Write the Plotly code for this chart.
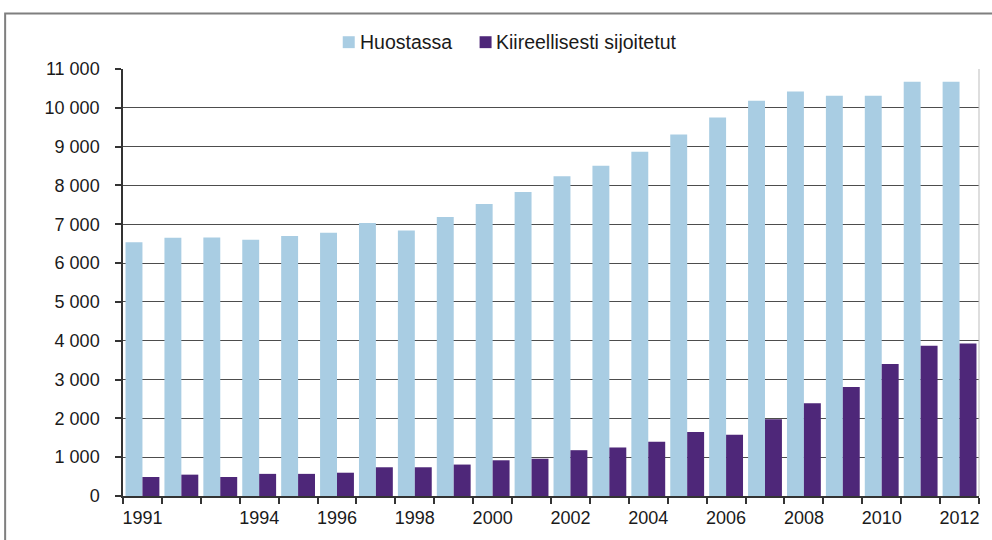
import plotly.graph_objects as go

years = list(range(1991, 2013))
huostassa = [6540, 6650, 6660, 6600, 6700, 6780, 7030, 6840, 7190, 7520, 7830,
             8240, 8510, 8870, 9310, 9750, 10180, 10420, 10310, 10310, 10670, 10670]
kiireelliset = [490, 550, 490, 570, 570, 600, 740, 740, 810, 920, 960,
                1180, 1250, 1400, 1650, 1580, 1980, 2390, 2810, 3400, 3870, 3930]
x_tick_years = [1991, 1994, 1996, 1998, 2000, 2002, 2004, 2006, 2008, 2010, 2012]
y_tick_vals = list(range(0, 11001, 1000))
y_tick_text = [f"{v:,}".replace(",", " ") for v in y_tick_vals]
series_names = ["Huostassa", "Kiireellisesti sijoitetut"]
series_colors = ["#A9CDE3", "#4E2779"]

W, H = 992, 540
L, R, T, B = 123, 12, 69, 41
pw, ph = W - L - R, H - T - B


def px_x(p):
    return (p - L) / pw


def px_y(p):
    return (H - B - p) / ph


fig = go.Figure()
for name, vals, col in zip(series_names, [huostassa, kiireelliset], series_colors):
    fig.add_trace(go.Bar(x=years, y=vals, name=name,
                         marker=dict(color=col, line=dict(width=0))))

# custom legend (square swatch + text), positioned like the reference
legend_items = [(343, 358), (480, 494)]
shapes = [
    # outer chart frame
    dict(type="rect", xref="paper", yref="paper",
         x0=px_x(5), x1=px_x(1000), y0=px_y(560), y1=px_y(13),
         line=dict(color="#7f7f7f", width=2), layer="below"),
    # plot area right border
    dict(type="line", xref="paper", yref="paper", x0=1, x1=1, y0=0, y1=1,
         line=dict(color="#bdbdbd", width=1)),
]
annotations = []
for (sx, tx), name, col in zip(legend_items, series_names, series_colors):
    shapes.append(dict(type="rect", xref="paper", yref="paper",
                       x0=px_x(sx), x1=px_x(sx + 12), y0=px_y(48), y1=px_y(36),
                       line=dict(width=0), fillcolor=col))
    annotations.append(dict(xref="paper", yref="paper", x=px_x(tx), y=px_y(42),
                            xanchor="left", yanchor="middle", showarrow=False,
                            text=name, font=dict(size=19.5, color="#1a1a1a")))

fig.update_layout(
    width=W, height=H,
    margin=dict(l=L, r=R, t=T, b=B),
    paper_bgcolor="white", plot_bgcolor="white",
    barmode="group", bargap=0.13, bargroupgap=0,
    font=dict(family="Liberation Sans, Arial, sans-serif", size=18, color="#1a1a1a"),
    showlegend=False,
    xaxis=dict(range=[1990.5, 2012.5], tickmode="array", tickvals=x_tick_years,
               ticktext=[str(v) for v in x_tick_years], ticks="", showgrid=False,
               showline=True, linecolor="#333333", linewidth=1.5, zeroline=False,
               tickfont=dict(size=18), ticklabelstandoff=5,
               minor=dict(tickmode="array", tickvals=[y + 0.5 for y in range(1990, 2013)],
                          ticks="outside", ticklen=6, tickcolor="#333333", tickwidth=1.5,
                          showgrid=False)),
    yaxis=dict(range=[0, 11000], tickmode="array", tickvals=y_tick_vals, ticktext=y_tick_text,
               ticks="outside", ticklen=6, tickcolor="#333333", tickwidth=1.5,
               showgrid=True, gridcolor="#4d4d4d", gridwidth=1.2,
               showline=True, linecolor="#333333", linewidth=1.5, zeroline=False,
               tickfont=dict(size=18), ticklabelstandoff=12),
    shapes=shapes,
    annotations=annotations,
)

fig.write_html("out.html", config={"displayModeBar": False},
               post_script="document.body.style.margin='0';")
